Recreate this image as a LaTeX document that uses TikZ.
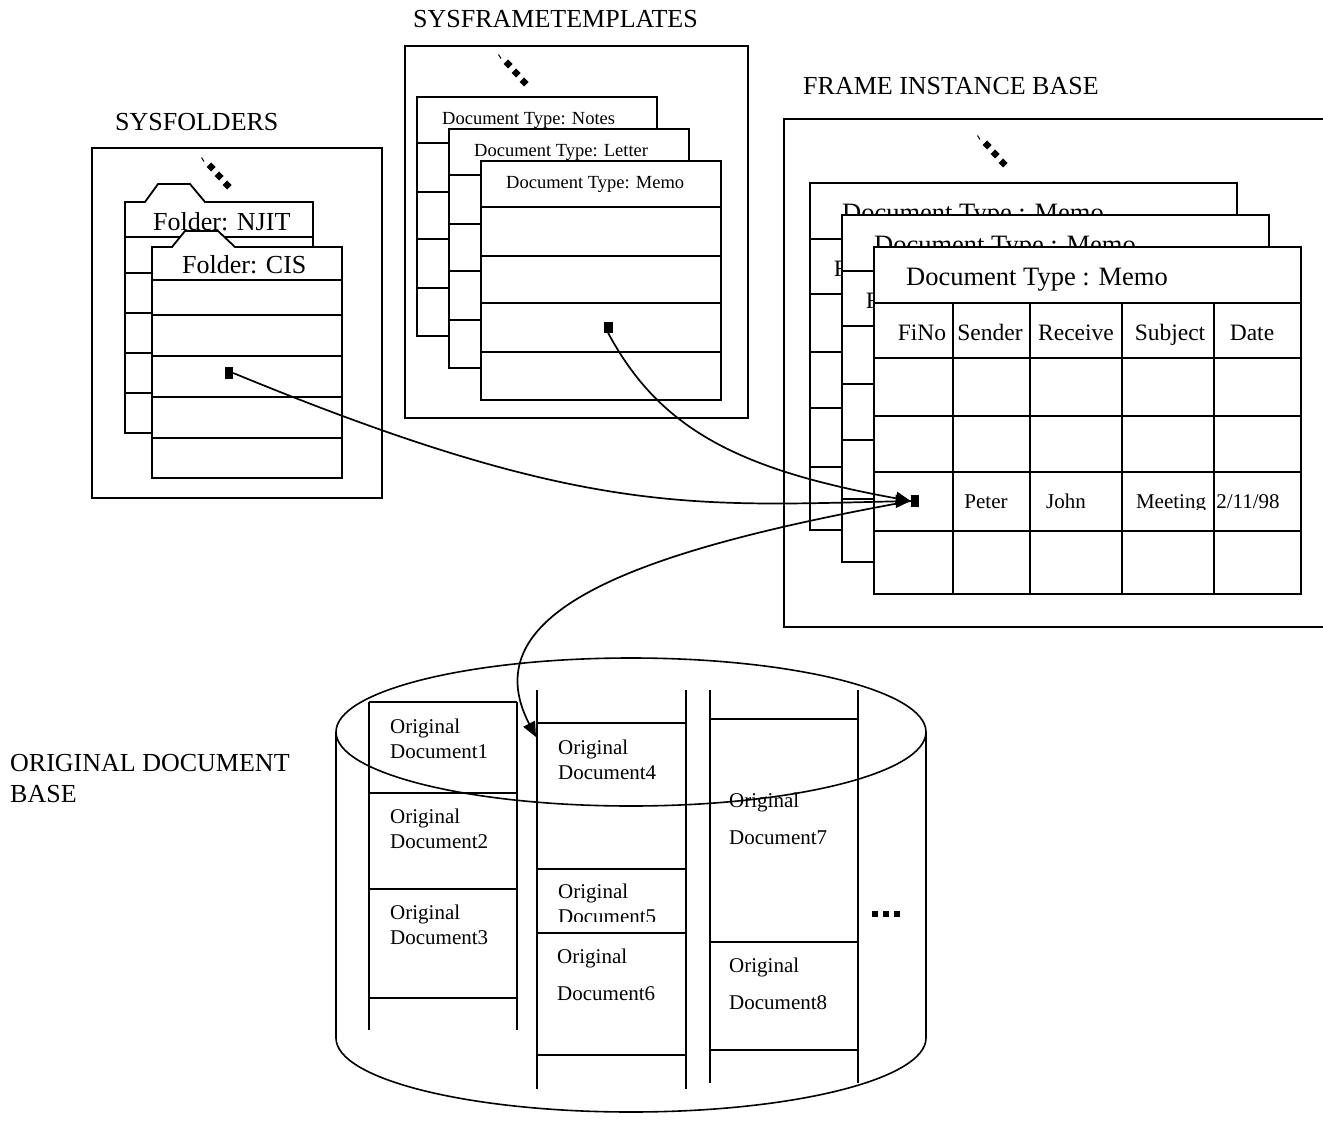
\documentclass[tikz,border=0pt]{standalone}
\usepackage{fontspec}
\setmainfont{Liberation Serif}
\usetikzlibrary{arrows.meta}

\newcommand\fsz[1]{\fontsize{#1}{#1}\selectfont}

\begin{document}
\begin{tikzpicture}[x=1pt,y=-1pt,
  ln/.style={line width=1.8pt},
  frm/.style={line width=1.8pt, fill=white},
  conn/.style={line width=1.7pt},
  tip/.style={-{Triangle[length=15pt,width=13pt]}},
  lbl/.style={font=\fsz{26}, anchor=base west, inner sep=0pt},
  fold/.style={font=\fsz{26}, anchor=base west, inner sep=0pt},
  tmpl/.style={font=\fsz{18.5}, anchor=base west, inner sep=0pt},
  ttl/.style={font=\fsz{26.5}, anchor=base west, inner sep=0pt},
  hdr/.style={font=\fsz{23.5}, anchor=base, inner sep=0pt},
  cell/.style={font=\fsz{21}, anchor=base, inner sep=0pt},
  doc/.style={font=\fsz{21}, anchor=base west, inner sep=0pt},
  sq/.style={fill=black, inner sep=0pt, minimum width=8pt, minimum height=12pt},
  stackdots/.pic={
    \draw[line width=1pt] (-1.5,-2.5) -- (1,1.5);
    \foreach \a/\b in {8/7,16/16,24/25}
      \fill (\a,\b-4.5) -- (\a+4.5,\b) -- (\a,\b+4.5) -- (\a-4.5,\b) -- cycle;
  }]
\useasboundingbox[fill=white] (0,0) rectangle (1323,1121);

% ---------- section labels ----------
\node[lbl] (lfold) at (115,131) {SYSFOLDERS};
\node[lbl] (ltmpl) at (413,28) {SYSFRAMETEMPLATES};
\node[lbl] (lfib) at (803,95) {FRAME INSTANCE BASE};
\node[lbl] (lodb1) at (10,771) {ORIGINAL DOCUMENT};
\node[lbl] (lodb2) at (10,802) {BASE};

% ---------- SYSFOLDERS ----------
\draw[ln] (92,148) rectangle (382,498);
\pic at (203,160) {stackdots};
\draw[frm] (125,433) -- (125,202) -- (145,202) -- (158,184) -- (190,184)
  -- (205,202) -- (313,202) -- (313,433) -- cycle;
\foreach \yy in {237,273,313,353,393} \draw[ln] (125,\yy) -- (313,\yy);
\node[fold] (njit) at (153,230) {Folder: NJIT};
\draw[frm] (152,478) -- (152,247) -- (172,247) -- (185,231) -- (218,231)
  -- (235,247) -- (342,247) -- (342,478) -- cycle;
\foreach \yy in {280,315,356,397,438} \draw[ln] (152,\yy) -- (342,\yy);
\node[fold] (cis) at (182,273) {Folder: CIS};
\node[sq] (cisdot) at (229,373) {};

% ---------- SYSFRAMETEMPLATES ----------
\draw[ln] (405,46) rectangle (748,418);
\pic at (500,57) {stackdots};
\foreach \s/\k/\t in {-64/n/Notes,-32/l/Letter,0/m/Memo}{
  \begin{scope}[shift={(\s,\s)}]
    \draw[frm] (481,161) rectangle (721,400);
    \foreach \yy in {207,256,303,352} \draw[ln] (481,\yy) -- (721,\yy);
    \node[tmpl] (tt-\k) at (506,189) {Document Type: \t};
  \end{scope}
}
\node[sq, minimum width=9pt, minimum height=11pt] (memodot) at (608,327) {};

% ---------- FRAME INSTANCE BASE ----------
\draw[ln] (1330,119) -- (784,119) -- (784,627) -- (1330,627);
\pic at (979,138) {stackdots};
% stacked instance frames, back to front
\foreach \s/\k in {-64/a,-32/b,0/c}{
  \begin{scope}[shift={(\s,\s)}]
    \draw[frm] (874,247) rectangle (1301,594);
    \foreach \yy in {303,358,416,472,531} \draw[ln] (874,\yy) -- (1301,\yy);
    \foreach \xx in {953,1030,1122,1214} \draw[ln] (\xx,303) -- (\xx,594);
    \node[ttl] (ttl-\k) at (906,285) {Document Type : Memo};
    \node[hdr] (fino-\k) at (922,340) {FiNo};
  \end{scope}
}
\node[hdr] (send) at (990,340) {Sender};
\node[hdr] (recv) at (1076,340) {Receive};
\node[hdr] (subj) at (1170,340) {Subject};
\node[hdr] (datehdr) at (1252,340) {Date};
\node[cell] (peter) at (986,508) {Peter};
\node[cell] (john) at (1066,508) {John};
\begin{scope}
  \clip (1124,474) rectangle (1212,509.5);
  \node[cell] (meeting) at (1171,508) {Meeting};
\end{scope}
\node[cell] (date) at (1248,508) {2/11/98};
\node[sq] (fino) at (915,501) {};

% ---------- ORIGINAL DOCUMENT BASE ----------
% column 1
\draw[ln] (369,702) -- (369,1030) (517,702) -- (517,1030);
\foreach \yy in {702,793,889,998} \draw[ln] (369,\yy) -- (517,\yy);
% column 2
\draw[ln] (537,690) -- (537,1089) (686,690) -- (686,1089);
\foreach \yy in {723,869,933,1055} \draw[ln] (537,\yy) -- (686,\yy);
% column 3
\draw[ln] (710,690) -- (710,1083) (858,690) -- (858,1083);
\foreach \yy in {719,942,1050} \draw[ln] (710,\yy) -- (858,\yy);

\node[doc] (d1a) at (390,733) {Original};
\node[doc] (d1b) at (390,758) {Document1};
\node[doc] (d2a) at (390,823) {Original};
\node[doc] (d2b) at (390,848) {Document2};
\node[doc] (d3a) at (390,919) {Original};
\node[doc] (d3b) at (390,944) {Document3};
\node[doc] (d4a) at (558,754) {Original};
\node[doc] (d4b) at (558,779) {Document4};
\node[doc] (d5a) at (558,898) {Original};
\begin{scope}
  \clip (540,900) rectangle (684,921.5);
  \node[doc] (d5b) at (558,923) {Document5};
\end{scope}
\node[doc] (d6a) at (557,963) {Original};
\node[doc] (d6b) at (557,1000) {Document6};
\node[doc] (d7a) at (729,807) {Original};
\node[doc] (d7b) at (729,844) {Document7};
\node[doc] (d8a) at (729,972) {Original};
\node[doc] (d8b) at (729,1009) {Document8};
\foreach \xx in {872,883,894} \fill (\xx,911) rectangle (\xx+6,917);

% cylinder outline
\draw[line width=1.6pt] (631,732) ellipse [x radius=295, y radius=74];
\draw[line width=1.6pt] (336,732) -- (336,1038) (926,732) -- (926,1038);
\begin{scope}
  \clip (320,1038) rectangle (940,1121);
  \draw[line width=1.6pt] (631,1038) ellipse [x radius=295, y radius=74];
\end{scope}
\coordinate (doc4in) at (536,737);

% ---------- connectors ----------
\draw[conn, tip] (cisdot.east) .. controls (580,516) and (690,506) .. (fino.west);
\draw[conn, tip] (memodot.south) .. controls (660,430) and (740,470) .. (fino.west);
\draw[conn, tip] (fino.west) .. controls (640,550) and (470,610) .. (doc4in);
\end{tikzpicture}
\end{document}
